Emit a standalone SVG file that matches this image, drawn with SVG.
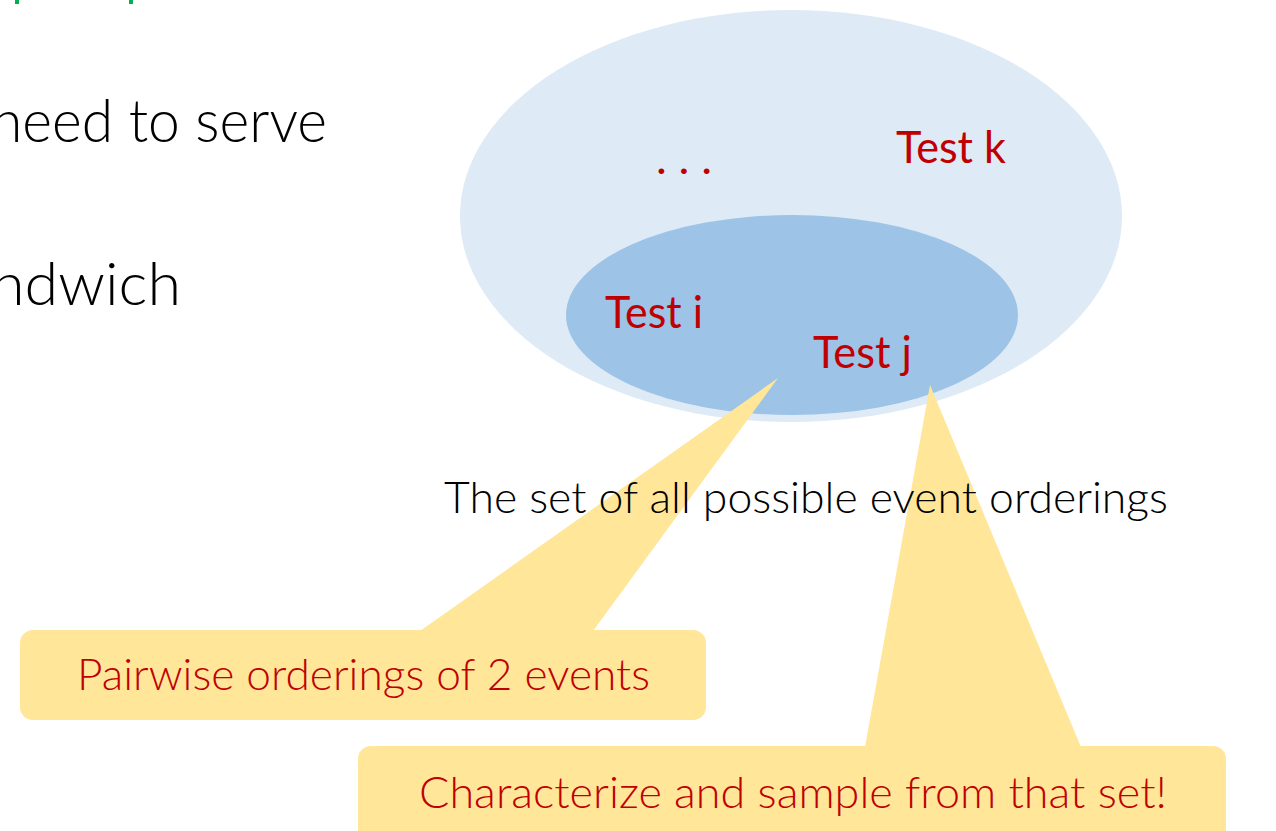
<svg xmlns="http://www.w3.org/2000/svg" width="1276" height="831" viewBox="0 0 1276 831">
  <style>
    .body { font-family: Lato, "Open Sans", "Liberation Sans", sans-serif; font-weight: 300; fill: #000000; }
    .red { font-family: Lato, "Open Sans", "Liberation Sans", sans-serif; font-weight: 400; fill: #C00000; }
    .red-light { font-family: Lato, "Open Sans", "Liberation Sans", sans-serif; font-weight: 300; fill: #C00000; }
    .callout { fill: #FFE699; }
  </style>
  <rect width="1276" height="831" fill="#FFFFFF"/>

  <!-- slide title descenders at the top edge -->
  <g id="title-marks" fill="#00B050">
    <rect x="15" y="0" width="4" height="4"/>
    <rect x="129" y="0" width="4" height="4"/>
  </g>

  <!-- bullet text fragments on the left -->
  <g id="bullets">
    <text class="body" x="-9" y="142" font-size="60" textLength="336" lengthAdjust="spacingAndGlyphs">need to serve</text>
    <text class="body" x="-9" y="305" font-size="60" textLength="190" lengthAdjust="spacingAndGlyphs">ndwich</text>
  </g>

  <!-- set of all orderings -->
  <g id="all-orderings">
    <ellipse cx="791" cy="216" rx="331" ry="206" fill="#DEEAF6"/>
  </g>
  <g id="pairwise-subset">
    <ellipse cx="792" cy="315" rx="226" ry="100" fill="#9DC3E6"/>
  </g>

  <!-- callout pointers -->
  <g id="connectors" class="callout">
    <polygon points="420,631 593,631 778,378"/>
    <polygon points="865,747 1081,747 930,385"/>
  </g>

  <g id="callout-pairwise">
    <rect class="callout" x="20" y="630" width="686" height="90" rx="13"/>
    <text class="red-light" x="77" y="690" font-size="44" textLength="573" lengthAdjust="spacingAndGlyphs">Pairwise orderings of 2 events</text>
  </g>

  <g id="callout-sample">
    <rect class="callout" x="358" y="746" width="868" height="100" rx="13"/>
    <text class="red-light" x="419" y="808" font-size="44" textLength="748" lengthAdjust="spacingAndGlyphs">Characterize and sample from that set!</text>
  </g>

  <!-- labels -->
  <g id="label-dots">
    <text class="red" x="656" y="174" font-size="44" textLength="56" lengthAdjust="spacingAndGlyphs">. . .</text>
  </g>
  <g id="label-test-k">
    <text class="red" x="896" y="163" font-size="44" textLength="110" lengthAdjust="spacingAndGlyphs">Test k</text>
  </g>
  <g id="label-test-i">
    <text class="red" x="605" y="328" font-size="44" textLength="98" lengthAdjust="spacingAndGlyphs">Test i</text>
  </g>
  <g id="label-test-j">
    <text class="red" x="813" y="368" font-size="44" textLength="99" lengthAdjust="spacingAndGlyphs">Test j</text>
  </g>
  <g id="caption">
    <text class="body" x="444" y="513" font-size="44" textLength="724" lengthAdjust="spacingAndGlyphs">The set of all possible event orderings</text>
  </g>
</svg>
